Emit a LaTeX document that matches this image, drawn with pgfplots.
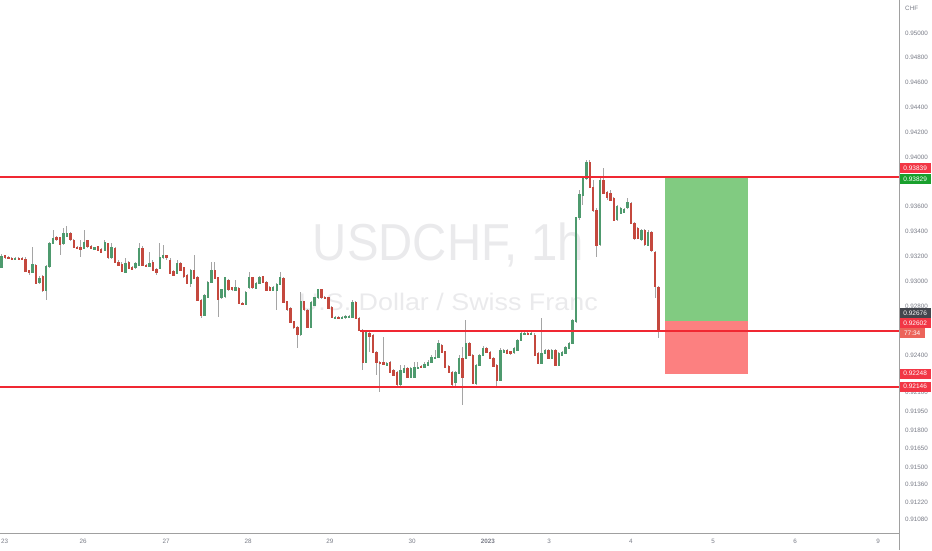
\documentclass[border=0pt]{standalone}
\usepackage{pgfplots}
\pgfplotsset{compat=1.18}
\usepackage{pgfplotstable}
\usepackage{fontspec}
\setmainfont{Liberation Sans}

\definecolor{upc}{RGB}{78,154,110}
\definecolor{dnc}{RGB}{196,72,62}
\definecolor{wickc}{RGB}{165,165,165}
\definecolor{axisc}{RGB}{160,160,160}
\definecolor{tickc}{RGB}{120,123,134}
\definecolor{lvl}{RGB}{240,40,50}
\definecolor{tpfill}{RGB}{129,203,129}
\definecolor{slfill}{RGB}{252,128,128}
\definecolor{boxred}{RGB}{242,54,69}
\definecolor{boxgreen}{RGB}{25,160,45}
\definecolor{boxdark}{RGB}{67,70,77}
\definecolor{boxtimer}{RGB}{236,100,90}
\definecolor{wmark}{RGB}{234,234,236}

% hourly candles, x = bar index
\pgfplotstableread{
x o h l c
0 0.93114 0.93219 0.93106 0.93203
4 0.93178 0.93195 0.93170 0.93187
9 0.93074 0.93276 0.93066 0.93138
11 0.92993 0.93042 0.92977 0.93026
13 0.92929 0.93130 0.92848 0.93122
14 0.93122 0.93316 0.93106 0.93308
15 0.93308 0.93412 0.93300 0.93348
18 0.93300 0.93428 0.93292 0.93380
19 0.93364 0.93445 0.93356 0.93388
24 0.93268 0.93412 0.93259 0.93316
27 0.93259 0.93276 0.93251 0.93268
30 0.93251 0.93332 0.93243 0.93308
32 0.93187 0.93308 0.93178 0.93268
36 0.93074 0.93187 0.93066 0.93146
39 0.93106 0.93154 0.93098 0.93146
40 0.93130 0.93308 0.93122 0.93268
43 0.93122 0.93235 0.93114 0.93146
46 0.93106 0.93308 0.93098 0.93195
47 0.93187 0.93292 0.93178 0.93203
51 0.93066 0.93170 0.93058 0.93146
55 0.92985 0.93098 0.92953 0.93090
59 0.92727 0.92897 0.92719 0.92889
60 0.92873 0.93001 0.92865 0.92993
61 0.92993 0.93154 0.92985 0.93090
64 0.92865 0.92937 0.92856 0.92929
65 0.92873 0.93034 0.92865 0.93026
68 0.92929 0.93009 0.92921 0.92953
71 0.92816 0.92921 0.92808 0.92913
72 0.92945 0.93074 0.92937 0.93026
74 0.92945 0.92993 0.92937 0.92985
75 0.92985 0.93042 0.92977 0.93034
79 0.92929 0.92961 0.92921 0.92953
80 0.92929 0.92985 0.92767 0.92977
81 0.92977 0.93074 0.92969 0.93026
87 0.92566 0.92913 0.92558 0.92832
90 0.92630 0.92840 0.92623 0.92832
91 0.92808 0.92873 0.92800 0.92865
92 0.92865 0.92937 0.92856 0.92929
97 0.92703 0.92719 0.92695 0.92711
99 0.92703 0.92719 0.92695 0.92711
100 0.92703 0.92727 0.92695 0.92719
101 0.92711 0.92727 0.92703 0.92719
102 0.92711 0.92848 0.92703 0.92832
106 0.92348 0.92606 0.92340 0.92590
112 0.92324 0.92348 0.92316 0.92340
116 0.92163 0.92324 0.92155 0.92283
117 0.92267 0.92324 0.92259 0.92299
119 0.92227 0.92307 0.92219 0.92299
120 0.92227 0.92348 0.92219 0.92307
121 0.92299 0.92348 0.92291 0.92307
123 0.92307 0.92348 0.92299 0.92332
124 0.92324 0.92364 0.92316 0.92348
125 0.92348 0.92404 0.92340 0.92388
126 0.92380 0.92445 0.92372 0.92388
127 0.92388 0.92525 0.92380 0.92501
132 0.92179 0.92275 0.92155 0.92267
133 0.92259 0.92404 0.92251 0.92380
135 0.92380 0.92687 0.92372 0.92501
138 0.92179 0.92332 0.92163 0.92324
139 0.92324 0.92412 0.92316 0.92404
140 0.92404 0.92477 0.92396 0.92461
145 0.92203 0.92461 0.92195 0.92445
146 0.92429 0.92453 0.92421 0.92445
149 0.92421 0.92469 0.92413 0.92461
150 0.92445 0.92533 0.92437 0.92525
151 0.92525 0.92590 0.92517 0.92582
152 0.92574 0.92590 0.92566 0.92582
154 0.92574 0.92590 0.92566 0.92582
157 0.92340 0.92703 0.92332 0.92421
158 0.92421 0.92453 0.92413 0.92445
160 0.92380 0.92453 0.92372 0.92445
162 0.92324 0.92429 0.92316 0.92421
163 0.92404 0.92437 0.92396 0.92429
164 0.92421 0.92477 0.92413 0.92469
165 0.92461 0.92509 0.92453 0.92501
166 0.92501 0.92695 0.92493 0.92687
167 0.92671 0.93517 0.92663 0.93509
168 0.93509 0.93735 0.93493 0.93695
169 0.93695 0.93848 0.93614 0.93832
170 0.93832 0.93976 0.93815 0.93960
174 0.93292 0.93840 0.93284 0.93815
179 0.93493 0.93614 0.93485 0.93598
180 0.93549 0.93598 0.93541 0.93590
181 0.93557 0.93590 0.93549 0.93581
182 0.93590 0.93670 0.93581 0.93630
186 0.93332 0.93420 0.93324 0.93412
188 0.93292 0.93412 0.93284 0.93396
}\upbars

\pgfplotstableread{
x o h l c
1 0.93203 0.93211 0.93178 0.93187
2 0.93195 0.93203 0.93178 0.93187
3 0.93187 0.93195 0.93170 0.93178
5 0.93187 0.93195 0.93170 0.93178
6 0.93187 0.93195 0.93170 0.93178
7 0.93178 0.93195 0.93074 0.93082
8 0.93082 0.93090 0.93050 0.93066
10 0.93130 0.93138 0.92977 0.92985
12 0.93034 0.93050 0.92913 0.92929
16 0.93348 0.93364 0.93324 0.93332
17 0.93348 0.93356 0.93211 0.93292
20 0.93388 0.93396 0.93324 0.93332
21 0.93332 0.93340 0.93268 0.93276
22 0.93276 0.93284 0.93259 0.93268
23 0.93268 0.93332 0.93195 0.93259
25 0.93324 0.93332 0.93268 0.93276
26 0.93284 0.93292 0.93259 0.93268
28 0.93276 0.93284 0.93243 0.93251
29 0.93259 0.93268 0.93227 0.93235
31 0.93300 0.93308 0.93178 0.93187
33 0.93268 0.93276 0.93146 0.93154
34 0.93154 0.93170 0.93122 0.93130
35 0.93138 0.93154 0.93074 0.93082
37 0.93154 0.93162 0.93098 0.93106
38 0.93114 0.93122 0.93090 0.93098
41 0.93268 0.93284 0.93122 0.93130
42 0.93130 0.93138 0.93114 0.93122
44 0.93154 0.93170 0.93082 0.93090
45 0.93098 0.93106 0.93050 0.93074
48 0.93203 0.93211 0.93170 0.93187
49 0.93170 0.93187 0.93058 0.93066
50 0.93082 0.93090 0.93042 0.93050
52 0.93146 0.93154 0.93082 0.93090
53 0.93106 0.93114 0.93026 0.93034
54 0.93050 0.93058 0.92977 0.92985
56 0.93090 0.93211 0.93018 0.93026
57 0.93034 0.93042 0.92840 0.92848
58 0.92848 0.92856 0.92703 0.92727
62 0.93090 0.93154 0.93018 0.93026
63 0.93026 0.93034 0.92711 0.92848
66 0.93009 0.93018 0.92921 0.92929
67 0.92945 0.92953 0.92921 0.92929
69 0.92945 0.92953 0.92816 0.92824
70 0.92824 0.92832 0.92808 0.92816
73 0.93026 0.93034 0.92937 0.92945
76 0.93034 0.93042 0.92985 0.92993
77 0.92993 0.93001 0.92921 0.92929
78 0.92953 0.92961 0.92921 0.92929
82 0.93026 0.93034 0.92824 0.92832
83 0.92832 0.92840 0.92759 0.92767
84 0.92783 0.92791 0.92663 0.92671
85 0.92671 0.92679 0.92614 0.92623
86 0.92630 0.92638 0.92461 0.92566
88 0.92832 0.92840 0.92759 0.92767
89 0.92767 0.92775 0.92623 0.92630
93 0.92929 0.92937 0.92856 0.92865
94 0.92873 0.92881 0.92856 0.92865
95 0.92865 0.92873 0.92775 0.92783
96 0.92791 0.92800 0.92703 0.92711
98 0.92711 0.92719 0.92695 0.92703
103 0.92832 0.92840 0.92695 0.92703
104 0.92703 0.92711 0.92598 0.92606
105 0.92606 0.92614 0.92283 0.92348
107 0.92582 0.92590 0.92429 0.92550
108 0.92566 0.92574 0.92421 0.92429
109 0.92429 0.92437 0.92243 0.92348
110 0.92348 0.92356 0.92106 0.92340
111 0.92348 0.92550 0.92324 0.92332
113 0.92348 0.92356 0.92259 0.92267
114 0.92283 0.92291 0.92235 0.92243
115 0.92267 0.92275 0.92155 0.92163
118 0.92299 0.92307 0.92219 0.92227
122 0.92316 0.92324 0.92299 0.92307
128 0.92485 0.92493 0.92421 0.92429
129 0.92429 0.92437 0.92299 0.92307
130 0.92316 0.92324 0.92259 0.92267
131 0.92267 0.92275 0.92155 0.92163
134 0.92380 0.92469 0.92001 0.92227
136 0.92501 0.92509 0.92396 0.92404
137 0.92404 0.92412 0.92171 0.92179
141 0.92461 0.92469 0.92421 0.92429
142 0.92429 0.92437 0.92372 0.92380
143 0.92380 0.92388 0.92307 0.92316
144 0.92324 0.92332 0.92138 0.92203
147 0.92445 0.92453 0.92413 0.92421
148 0.92429 0.92437 0.92405 0.92413
153 0.92582 0.92590 0.92566 0.92574
155 0.92566 0.92582 0.92396 0.92404
156 0.92421 0.92429 0.92332 0.92340
159 0.92445 0.92453 0.92372 0.92380
161 0.92445 0.92453 0.92316 0.92324
171 0.93960 0.93976 0.93751 0.93759
172 0.93759 0.93815 0.93557 0.93573
173 0.93573 0.93589 0.93195 0.93292
175 0.93815 0.93912 0.93703 0.93711
176 0.93719 0.93727 0.93654 0.93678
177 0.93711 0.93735 0.93646 0.93654
178 0.93670 0.93678 0.93485 0.93493
183 0.93630 0.93638 0.93461 0.93469
184 0.93469 0.93477 0.93332 0.93348
185 0.93428 0.93436 0.93340 0.93348
187 0.93412 0.93420 0.93284 0.93292
189 0.93396 0.93404 0.93235 0.93251
190 0.93227 0.93243 0.92865 0.92953
191 0.92953 0.92961 0.92541 0.92602
}\downbars

\tikzset{
  pricebox/.style={anchor=west, inner sep=0pt, minimum width=31pt, minimum height=10pt,
    text=white, font=\fontsize{6.5}{7}\selectfont, xshift=0.5pt},
}

\begin{document}
\begin{tikzpicture}
\useasboundingbox (0,0) rectangle (932pt,550pt);
\begin{axis}[
  at={(0pt,17pt)}, anchor=south west,
  width=899pt, height=533pt, scale only axis,
  xmin=-0.44, xmax=260.9,
  ymin=0.90970, ymax=0.95266,
  axis x line*=bottom, axis y line*=right,
  axis line style={draw=axisc, line width=0.8pt, -},
  major tick length=0pt,
  xtick={0.9,23.69,47.82,71.66,95.49,119.33,141.42,159.16,182.99,206.83,230.67,254.8},
  xticklabels={23,26,27,28,29,30,\textbf{2023},3,4,5,6,9},
  ytick={0.95,0.948,0.946,0.944,0.942,0.94,0.936,0.934,0.932,0.93,0.928,0.924,0.921,0.9195,0.918,0.9165,0.915,0.9136,0.9122,0.9108},
  yticklabels={0.95000,0.94800,0.94600,0.94400,0.94200,0.94000,0.93600,0.93400,0.93200,0.93000,0.92800,0.92400,0.92100,0.91950,0.91800,0.91650,0.91500,0.91360,0.91220,0.91080},
  ticklabel style={font=\fontsize{6.3}{7}\selectfont, text=tickc},
  yticklabel style={anchor=west, inner sep=0pt, xshift=6pt},
  xticklabel style={anchor=center, inner sep=0pt, yshift=-8.5pt},
  clip=false,
  after end axis/.code={
    \draw[axisc, line width=0.8pt] (rel axis cs:1,0) -- ++(0,-17pt);
  },
]
% watermark
\node[anchor=base, text=wmark, font=\fontsize{52}{52}\selectfont, xscale=0.91]
  at (axis cs:129.9,0.93170) {USDCHF, 1h};
\node[anchor=base, text=wmark, font=\fontsize{24}{24}\selectfont, xscale=1.12]
  at (axis cs:129.9,0.92767) {U.S. Dollar / Swiss Franc};

% long position tool
\addplot[fill=tpfill, draw=none, forget plot] coordinates
  {(192.9,0.92676) (217.0,0.92676) (217.0,0.93829) (192.9,0.93829)} -- cycle;
\addplot[fill=slfill, draw=none, forget plot] coordinates
  {(192.9,0.92248) (217.0,0.92248) (217.0,0.92676) (192.9,0.92676)} -- cycle;

% wicks
\addplot[draw=none, forget plot, error bars/.cd, y dir=both, y explicit, error mark=none,
  error bar style={draw=wickc, line width=0.9pt}]
  table[x=x, y expr={(\thisrow{h}+\thisrow{l})/2}, y error expr={(\thisrow{h}-\thisrow{l})/2}] {\upbars};
\addplot[draw=none, forget plot, error bars/.cd, y dir=both, y explicit, error mark=none,
  error bar style={draw=wickc, line width=0.9pt}]
  table[x=x, y expr={(\thisrow{h}+\thisrow{l})/2}, y error expr={(\thisrow{h}-\thisrow{l})/2}] {\downbars};
% bodies
\addplot[draw=none, forget plot, error bars/.cd, y dir=both, y explicit, error mark=none,
  error bar style={draw=upc, line width=2.4pt}]
  table[x=x, y expr={(\thisrow{o}+\thisrow{c})/2}, y error expr={(\thisrow{c}-\thisrow{o})/2+0.00004}] {\upbars};
\addplot[draw=none, forget plot, error bars/.cd, y dir=both, y explicit, error mark=none,
  error bar style={draw=dnc, line width=2.4pt}]
  table[x=x, y expr={(\thisrow{o}+\thisrow{c})/2}, y error expr={(\thisrow{o}-\thisrow{c})/2+0.00004}] {\downbars};

% horizontal levels
\addplot[lvl, line width=2pt, forget plot] coordinates {(-0.44,0.93839) (260.9,0.93839)};
\addplot[lvl, line width=2pt, forget plot] coordinates {(104.2,0.92602) (260.9,0.92602)};
\addplot[lvl, line width=2pt, forget plot] coordinates {(-0.44,0.92146) (260.9,0.92146)};

% price scale labels
\node[anchor=west, text=tickc, font=\fontsize{6.3}{7}\selectfont, inner sep=0pt]
  at ([xshift=6pt,yshift=-8pt]rel axis cs:1,1) {CHF};
\node[pricebox, fill=boxred] at (axis cs:260.9,0.93912) {0.93839};
\node[pricebox, fill=boxgreen] at (axis cs:260.9,0.93823) {0.93829};
\node[pricebox, fill=boxdark] at (axis cs:260.9,0.92743) {0.92676};
\node[pricebox, fill=boxred] at (axis cs:260.9,0.92659) {0.92602};
\node[pricebox, fill=boxtimer, minimum width=25pt] at (axis cs:260.9,0.92578) {77:34};
\node[pricebox, fill=boxred] at (axis cs:260.9,0.92255) {0.92248};
\node[pricebox, fill=boxred] at (axis cs:260.9,0.92150) {0.92146};
\end{axis}
\end{tikzpicture}
\end{document}
